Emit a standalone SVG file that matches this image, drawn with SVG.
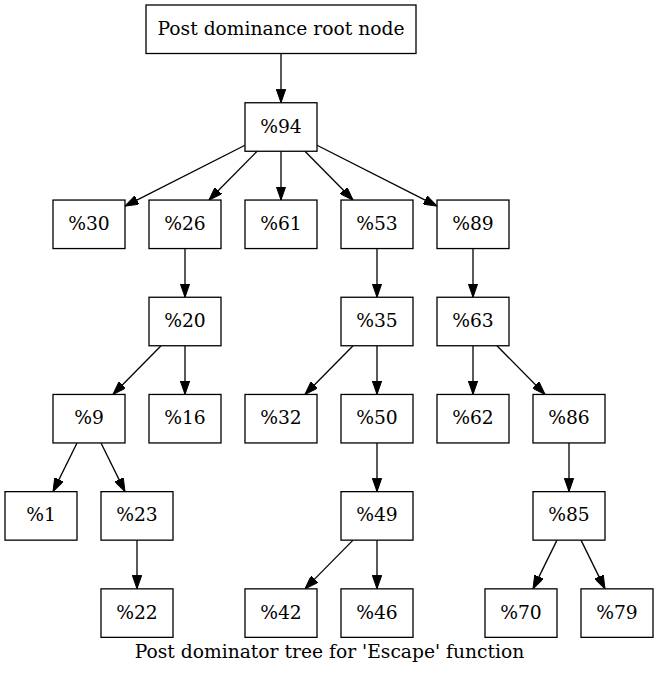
<svg xmlns="http://www.w3.org/2000/svg" width="659" height="675" viewBox="0 0 659 675">
<style>
.n rect{fill:#fff;stroke:#000;stroke-width:1.3}
text{font-family:"DejaVu Serif","Liberation Serif",serif;font-size:18.7px;text-anchor:middle;fill:#000}
.e line{stroke:#000;stroke-width:1.3;marker-end:url(#a)}
</style>
<defs>
<marker id="a" viewBox="0 0 13.5 9.4" refX="13.5" refY="4.7" markerWidth="13.5" markerHeight="9.4" markerUnits="userSpaceOnUse" orient="auto">
<path d="M0,0 L13.5,4.7 L0,9.4 z" fill="#000" stroke="#000" stroke-width="1"/>
</marker>
</defs>
<rect width="659" height="675" fill="#fff"/>
<g class="e">
<line x1="281" y1="53.45" x2="281" y2="102.75"/>
<line x1="245" y1="145.24" x2="125" y2="206.06"/>
<line x1="257.07" y1="151.25" x2="208.93" y2="200.05"/>
<line x1="281" y1="151.25" x2="281" y2="200.05"/>
<line x1="304.93" y1="151.25" x2="353.07" y2="200.05"/>
<line x1="317" y1="145.24" x2="437" y2="206.06"/>
<line x1="185" y1="248.55" x2="185" y2="297.25"/>
<line x1="377" y1="248.55" x2="377" y2="297.25"/>
<line x1="473" y1="248.55" x2="473" y2="297.25"/>
<line x1="161.05" y1="345.75" x2="112.95" y2="394.45"/>
<line x1="185" y1="345.75" x2="185" y2="394.45"/>
<line x1="353.05" y1="345.75" x2="304.95" y2="394.45"/>
<line x1="377" y1="345.75" x2="377" y2="394.45"/>
<line x1="473" y1="345.75" x2="473" y2="394.45"/>
<line x1="496.95" y1="345.75" x2="545.05" y2="394.45"/>
<line x1="77" y1="442.95" x2="53" y2="491.65"/>
<line x1="101" y1="442.95" x2="125" y2="491.65"/>
<line x1="137" y1="540.15" x2="137" y2="588.85"/>
<line x1="377" y1="442.95" x2="377" y2="491.65"/>
<line x1="353.05" y1="540.15" x2="304.95" y2="588.85"/>
<line x1="377" y1="540.15" x2="377" y2="588.85"/>
<line x1="569" y1="442.95" x2="569" y2="491.65"/>
<line x1="557" y1="540.15" x2="533" y2="588.85"/>
<line x1="581" y1="540.15" x2="605" y2="588.85"/>
</g>
<g id="root" class="n"><rect x="146" y="5" width="270" height="48.5"/><text x="281" y="35">Post dominance root node</text></g>
<g id="n94" class="n"><rect x="245" y="102.75" width="72" height="48.5"/><text x="281" y="132.5">%94</text></g>
<g id="n30" class="n"><rect x="53" y="200.05" width="72" height="48.5"/><text x="89" y="229.8">%30</text></g>
<g id="n26" class="n"><rect x="149" y="200.05" width="72" height="48.5"/><text x="185" y="229.8">%26</text></g>
<g id="n61" class="n"><rect x="245" y="200.05" width="72" height="48.5"/><text x="281" y="229.8">%61</text></g>
<g id="n53" class="n"><rect x="341" y="200.05" width="72" height="48.5"/><text x="377" y="229.8">%53</text></g>
<g id="n89" class="n"><rect x="437" y="200.05" width="72" height="48.5"/><text x="473" y="229.8">%89</text></g>
<g id="n20" class="n"><rect x="149" y="297.25" width="72" height="48.5"/><text x="185" y="327">%20</text></g>
<g id="n35" class="n"><rect x="341" y="297.25" width="72" height="48.5"/><text x="377" y="327">%35</text></g>
<g id="n63" class="n"><rect x="437" y="297.25" width="72" height="48.5"/><text x="473" y="327">%63</text></g>
<g id="n9" class="n"><rect x="53" y="394.45" width="72" height="48.5"/><text x="89" y="424.2">%9</text></g>
<g id="n16" class="n"><rect x="149" y="394.45" width="72" height="48.5"/><text x="185" y="424.2">%16</text></g>
<g id="n32" class="n"><rect x="245" y="394.45" width="72" height="48.5"/><text x="281" y="424.2">%32</text></g>
<g id="n50" class="n"><rect x="341" y="394.45" width="72" height="48.5"/><text x="377" y="424.2">%50</text></g>
<g id="n62" class="n"><rect x="437" y="394.45" width="72" height="48.5"/><text x="473" y="424.2">%62</text></g>
<g id="n86" class="n"><rect x="533" y="394.45" width="72" height="48.5"/><text x="569" y="424.2">%86</text></g>
<g id="n1" class="n"><rect x="5" y="491.65" width="72" height="48.5"/><text x="41" y="521.4">%1</text></g>
<g id="n23" class="n"><rect x="101" y="491.65" width="72" height="48.5"/><text x="137" y="521.4">%23</text></g>
<g id="n49" class="n"><rect x="341" y="491.65" width="72" height="48.5"/><text x="377" y="521.4">%49</text></g>
<g id="n85" class="n"><rect x="533" y="491.65" width="72" height="48.5"/><text x="569" y="521.4">%85</text></g>
<g id="n22" class="n"><rect x="101" y="588.85" width="72" height="48.5"/><text x="137" y="618.6">%22</text></g>
<g id="n42" class="n"><rect x="245" y="588.85" width="72" height="48.5"/><text x="281" y="618.6">%42</text></g>
<g id="n46" class="n"><rect x="341" y="588.85" width="72" height="48.5"/><text x="377" y="618.6">%46</text></g>
<g id="n70" class="n"><rect x="485" y="588.85" width="72" height="48.5"/><text x="521" y="618.6">%70</text></g>
<g id="n79" class="n"><rect x="581" y="588.85" width="72" height="48.5"/><text x="617" y="618.6">%79</text></g>
<text x="329.5" y="658">Post dominator tree for 'Escape' function</text>
</svg>
